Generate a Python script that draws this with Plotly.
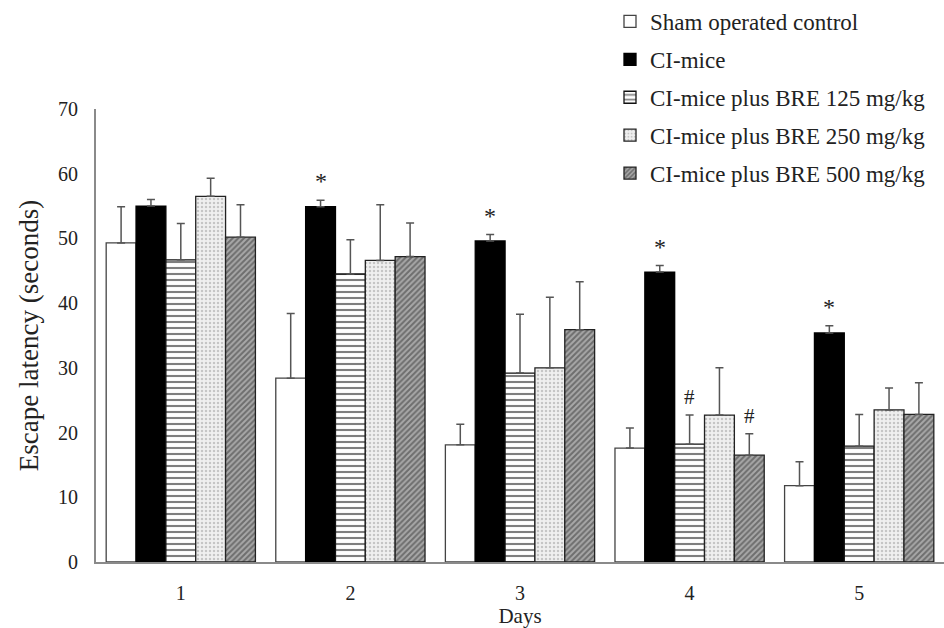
import plotly.graph_objects as go

days = ["1", "2", "3", "4", "5"]
series_names = ["Sham operated control", "CI-mice", "CI-mice plus BRE 125 mg/kg",
                "CI-mice plus BRE 250 mg/kg", "CI-mice plus BRE 500 mg/kg"]
sham = [49.3, 28.4, 18.1, 17.6, 11.8]
sham_err = [5.6, 10.0, 3.2, 3.1, 3.7]
ci = [55.0, 54.9, 49.6, 44.8, 35.4]
ci_err = [1.0, 1.0, 1.0, 1.0, 1.1]
bre125 = [46.7, 44.5, 29.2, 18.2, 17.9]
bre125_err = [5.6, 5.3, 9.1, 4.5, 4.9]
bre250 = [56.5, 46.6, 30.0, 22.7, 23.5]
bre250_err = [2.8, 8.6, 10.9, 7.3, 3.4]
bre500 = [50.2, 47.2, 35.9, 16.5, 22.8]
bre500_err = [5.0, 5.2, 7.4, 3.3, 4.9]
star_days = [2, 3, 4, 5]          # "*" on CI-mice
hash_days = [4]                   # "#" on BRE 125 and BRE 500

values = [sham, ci, bre125, bre250, bre500]
errors = [sham_err, ci_err, bre125_err, bre250_err, bre500_err]

styles = [
    dict(color="white", line=dict(color="#444", width=1.3), pattern=None),
    dict(color="black", line=dict(color="black", width=1.3), pattern=None),
    dict(color="white", line=dict(color="#111", width=1.3),
         pattern=dict(shape="-", fgcolor="black", bgcolor="white", size=6, solidity=0.35)),
    dict(color="#eeeeee", line=dict(color="#222", width=1.3),
         pattern=dict(shape=".", fgcolor="#9a9a9a", bgcolor="#efefef", size=4, solidity=0.3)),
    dict(color="#999999", line=dict(color="#222", width=1.3),
         pattern=dict(shape="/", fgcolor="#333333", bgcolor="#a8a8a8", size=4, solidity=0.5)),
]

xnum = [int(d) for d in days]
fig = go.Figure()
for i, (name, v, e, s) in enumerate(zip(series_names, values, errors, styles)):
    marker = dict(color=s["color"], line=s["line"])
    if s["pattern"]:
        marker["pattern"] = s["pattern"]
    fig.add_trace(go.Bar(
        x=xnum, y=v, name=name, marker=marker, legendgroup="g%d" % i,
        error_y=dict(type="data", array=e, arrayminus=[0] * len(e), symmetric=False,
                     color="#555555", thickness=1.5, width=4),
    ))

bargap = 0.12
bw = (1 - bargap) / 5

def offset(idx):
    return (idx - 2) * bw

annotations = []
for d in star_days:
    k = d - 1
    annotations.append(dict(x=d + offset(1), y=ci[k] + ci_err[k], text="*", showarrow=False,
                            yanchor="bottom", yshift=4, font=dict(size=24, color="#222")))
for d in hash_days:
    k = d - 1
    annotations.append(dict(x=d + offset(2), y=bre125[k] + bre125_err[k], text="#", showarrow=False,
                            yanchor="bottom", yshift=4, font=dict(size=21, color="#222")))
    annotations.append(dict(x=d + offset(4), y=bre500[k] + bre500_err[k], text="#", showarrow=False,
                            yanchor="bottom", yshift=4, font=dict(size=21, color="#222")))

fig.update_layout(
    width=944, height=628,
    margin=dict(l=96, r=0, t=109, b=66, autoexpand=False),
    paper_bgcolor="white", plot_bgcolor="white",
    barmode="group", bargap=bargap, bargroupgap=0,
    font=dict(family="Liberation Serif", size=20, color="#222"),
    xaxis=dict(range=[0.5, 5.5], tickvals=xnum, ticktext=days, showline=True,
               linecolor="#8a8a8a", linewidth=2, ticks="", showgrid=False, zeroline=False,
               ticklabelstandoff=12,
               title=dict(text="Days", font=dict(size=21), standoff=0)),
    yaxis=dict(range=[0, 70], dtick=10, showline=True, linecolor="#8a8a8a", linewidth=2,
               ticks="", showgrid=False, zeroline=False, ticklabelstandoff=12,
               title=dict(text="Escape latency (seconds)", font=dict(size=27), standoff=12)),
    legend=dict(xref="container", yref="container", x=610 / 944, y=1,
                xanchor="left", yanchor="top", font=dict(size=23), tracegroupgap=5,
                bgcolor="rgba(0,0,0,0)", traceorder="grouped"),
    annotations=annotations,
    showlegend=True,
)

fig.write_html("out.html")
